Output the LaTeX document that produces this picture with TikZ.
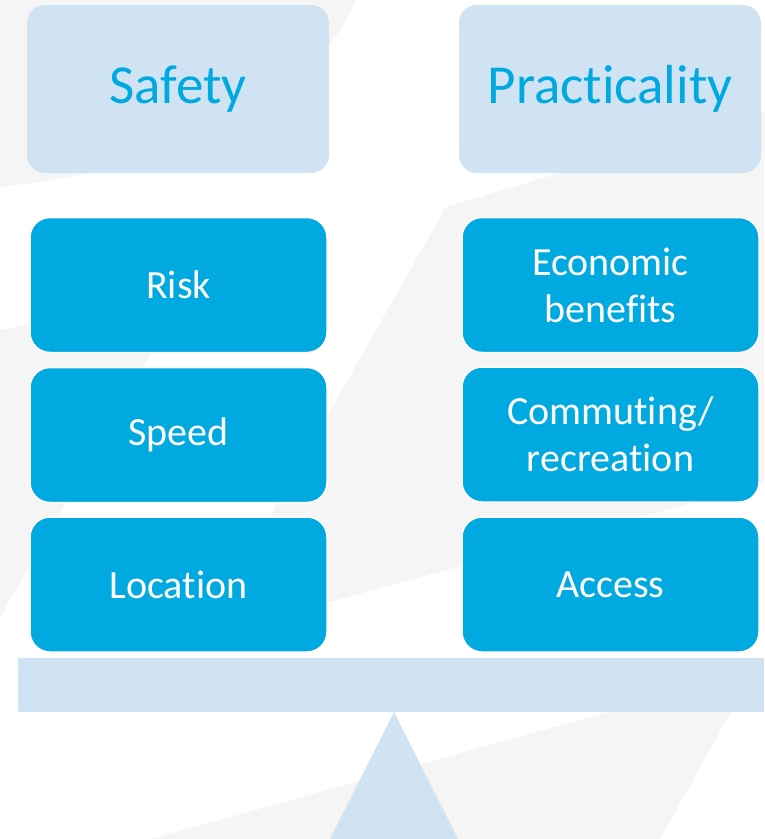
\documentclass[tikz,border=0pt]{standalone}
\usepackage{fontspec}
\setmainfont[Ligatures=NoCommon]{Carlito}
\definecolor{hdr}{RGB}{208,227,242}
\definecolor{bluebox}{RGB}{0,169,224}
\definecolor{hdrtext}{RGB}{0,169,224}
\definecolor{bggray}{RGB}{245,245,245}
\tikzset{
  hdrbox/.style={rounded corners=18pt, fill=hdr, minimum width=302pt, minimum height=168pt,
    text=hdrtext, font=\fontsize{55}{60}\selectfont, inner sep=0pt},
  itembox/.style={rounded corners=20pt, fill=bluebox, draw=white, line width=1.5pt,
    minimum width=297pt, minimum height=135pt, text=white,
    font=\fontsize{40}{47}\selectfont, align=center, inner sep=0pt},
  bgshape/.style={fill=bggray},
  standfill/.style={fill=hdr}
}
\begin{document}
\begin{tikzpicture}[x=1pt,y=-1pt]
\useasboundingbox (0,0) rectangle (764,839);
\fill[white] (0,0) rectangle (764,839);
% faint background shapes
\fill[bgshape] (0,0) -- (356,0) .. controls (320,80) and (230,160) .. (0,187) -- cycle;
\fill[bgshape] (446,207) -- (764,112) -- (764,483) -- (202,637) -- cycle;
\fill[bgshape] (0,330) -- (186,293) -- (0,617) -- cycle;
\fill[bgshape] (151,839) -- (753,672) -- (660,839) -- cycle;
% header boxes
\node[hdrbox] (safety) at (178,89) {Safety};
\node[hdrbox] (pract) at (610,89) {Practicality};
% item boxes
\node[itembox] (risk) at (178.5,285) {Risk};
\node[itembox] (speed) at (178.5,435) {Speed};
\node[itembox] (loc) at (178.5,584.5) {Location};
\node[itembox] (econ) at (610.5,285) {Economic\\benefits};
\node[itembox] (comm) at (610.5,434.5) {Commuting/\\recreation};
\node[itembox] (access) at (610.5,584.5) {Access};
% balance beam and fulcrum
\fill[standfill] (18,658) rectangle (764,712);
\fill[standfill] (394,712) -- (330,839) -- (458,839) -- cycle;
\end{tikzpicture}
\end{document}
